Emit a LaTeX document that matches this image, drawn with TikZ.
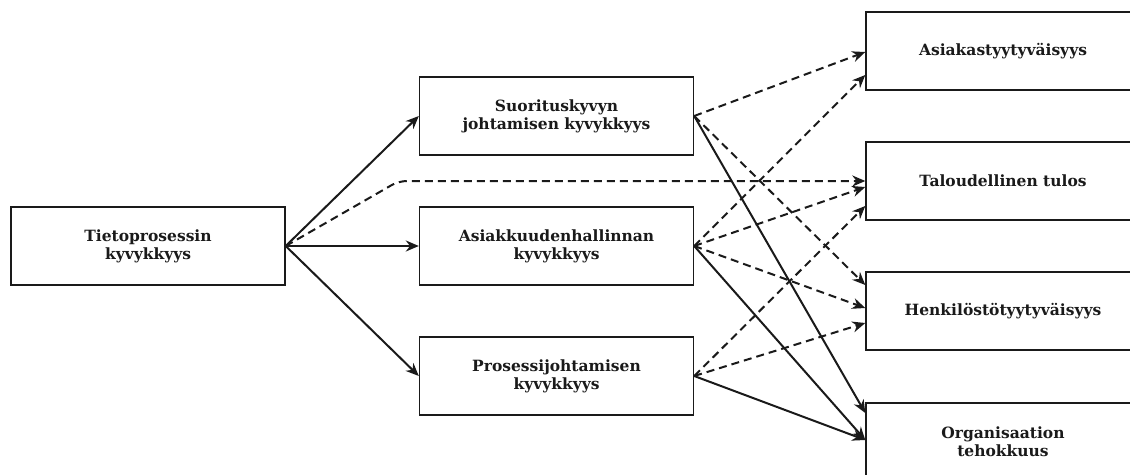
\documentclass[tikz,border=0pt]{standalone}
\usepackage{fontspec}
\setmainfont{DejaVu Serif}
\usepackage{tikz}
\usepackage{xcolor}
\usetikzlibrary{arrows.meta,positioning,calc}
\definecolor{Ink}{HTML}{1A1A1A}

\begin{document}
\begin{tikzpicture}[x=1pt,y=1pt,
    box/.style={draw=Ink, line width=1.4pt, fill=white, minimum width=274pt, minimum height=78pt, align=center, font=\fontsize{15.5}{18}\selectfont\bfseries, text=Ink, inner sep=0pt},
    arr/.style={-{Stealth[length=13pt,width=11pt]}, line width=2pt, draw=Ink},
    darr/.style={arr, dash pattern=on 8pt off 5pt}
  ]
    \useasboundingbox (0,0) rectangle (1130,-474);
    \node[box] (tieto) at (148,-246) {Tietoprosessin\\kyvykkyys};
    \node[box] (suor) at (556.5,-116) {Suorituskyvyn\\johtamisen kyvykkyys};
    \node[box] (asiak) at (556.5,-246) {Asiakkuudenhallinnan\\kyvykkyys};
    \node[box] (proses) at (556.5,-376) {Prosessijohtamisen\\kyvykkyys};
    \node[box] (tyyt) at (1003,-51) {Asiakastyytyväisyys};
    \node[box] (tulos) at (1003,-181) {Taloudellinen tulos};
    \node[box] (henk) at (1003,-311) {Henkilöstötyytyväisyys};
    \node[box] (teho) at (1003,-442) {Organisaation\\tehokkuus};
    \coordinate (kulma) at ([xshift=-20pt]asiak.north west |- tulos.west);
    \draw[arr] (tieto.east) -- (suor.west);
    \draw[arr] (tieto.east) -- (asiak.west);
    \draw[arr] (tieto.east) -- (proses.west);
    \draw[darr, rounded corners=8pt] (tieto.east) -- (kulma) -- (tulos.west);
    \draw[darr] (suor.east) -- ([yshift=-1pt]tyyt.west);
    \draw[darr] (suor.east) -- ([yshift=26pt]henk.west);
    \draw[arr] (suor.east) -- ([yshift=29pt]teho.west);
    \draw[darr] (asiak.east) -- ([yshift=-24pt]tyyt.west);
    \draw[darr] (asiak.east) -- ([yshift=-6pt]tulos.west);
    \draw[darr] (asiak.east) -- ([yshift=3pt]henk.west);
    \draw[arr] (asiak.east) -- ([yshift=2pt]teho.west);
    \draw[darr] (proses.east) -- ([yshift=-25pt]tulos.west);
    \draw[darr] (proses.east) -- ([yshift=-12pt]henk.west);
    \draw[arr] (proses.east) -- ([yshift=2pt]teho.west);
  \end{tikzpicture}
\end{document}
